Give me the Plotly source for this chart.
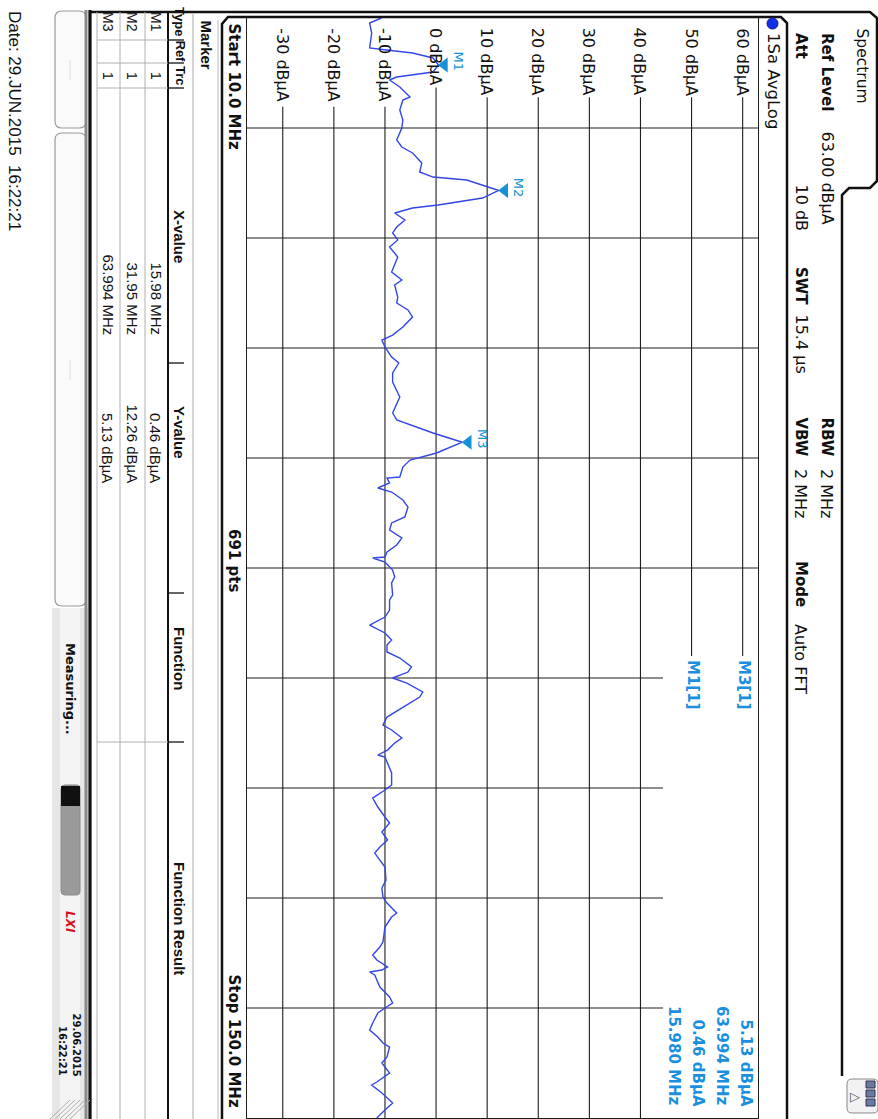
import plotly.graph_objects as go

W, H = 878, 1119
FONT = "DejaVu Sans"
TFONT = "Liberation Sans"

# ---------------- data ----------------
freq_mhz = [10.00, 10.64, 11.91, 13.82, 14.07, 14.45, 15.09, 15.98, 16.87, 17.51, 17.89, 18.78,
            20.05, 20.44, 21.71, 22.98, 24.00, 25.53, 26.42, 27.18, 28.46, 29.60, 30.24, 30.62,
            31.95, 32.91, 33.80, 34.18, 34.82, 35.71, 36.60, 37.36, 38.25, 39.15, 40.42, 42.33,
            43.35, 43.98, 45.51, 46.27, 47.16, 48.06, 49.33, 50.35, 50.98, 51.87, 53.15, 53.91,
            55.18, 56.33, 58.24, 60.27, 61.16, 62.82, 63.99, 65.36, 66.26, 67.15, 68.42, 68.55,
            69.18, 69.82, 70.33, 71.35, 72.24, 73.51, 74.27, 75.16, 76.18, 77.07, 77.96, 78.60,
            78.73, 79.24, 80.26, 81.15, 81.91, 83.44, 84.07, 85.35, 86.24, 87.26, 88.27, 89.16,
            89.80, 90.69, 91.46, 92.60, 93.24, 94.00, 94.64, 95.78, 96.42, 97.69, 98.97, 99.98,
            100.62, 101.64, 102.28, 103.17, 103.80, 104.06, 104.82, 106.09, 107.62, 108.26, 109.28,
            110.42, 111.69, 112.46, 113.60, 114.62, 115.51, 116.28, 117.17, 118.06, 119.71, 120.73,
            121.88, 122.64, 123.91, 124.42, 125.69, 127.60, 128.24, 129.26, 129.89, 130.78, 131.17,
            131.42, 131.80, 133.33, 134.60, 135.37, 136.00, 136.64, 137.91, 138.80, 139.69, 140.46,
            140.97, 142.24, 143.00, 144.28, 145.42, 145.80, 146.82, 148.09, 148.98, 150.00]
level_dbua = [-10.7, -13.0, -12.6, -13.0, -9.7, -4.6, -0.6, 0.46, -0.6, -7.7, -9.1, -7.1,
              -5.1, -6.5, -7.1, -6.5, -6.7, -7.7, -6.7, -4.6, -2.8, -3.2, -0.6, 6.0,
              12.26, 9.1, 0.4, -4.6, -8.1, -6.1, -7.7, -8.5, -7.5, -9.1, -7.5, -8.7,
              -6.7, -8.1, -7.5, -7.7, -5.5, -4.6, -6.5, -8.5, -10.6, -10.0, -8.7, -7.3,
              -8.5, -8.5, -7.1, -8.5, -7.7, -0.6, 5.13, 0.1, -5.1, -6.5, -7.1, -9.6,
              -9.1, -11.4, -8.7, -6.5, -5.5, -6.1, -8.7, -9.1, -6.7, -7.7, -9.6, -10.0,
              -12.4, -10.0, -8.5, -8.1, -8.7, -8.5, -9.1, -9.1, -10.0, -13.0, -10.0, -8.7,
              -9.6, -9.6, -7.1, -4.8, -5.5, -8.5, -5.7, -2.6, -3.2, -6.5, -9.6, -10.4,
              -8.7, -6.7, -8.1, -9.5, -11.4, -10.0, -9.5, -8.7, -8.7, -10.0, -12.4,
              -11.4, -10.0, -9.1, -10.6, -9.5, -11.0, -12.0, -11.0, -10.0, -9.8, -10.6,
              -10.4, -9.6, -7.7, -8.7, -10.0, -10.4, -11.0, -12.4, -11.6, -9.5, -10.6,
              -13.0, -12.0, -11.0, -9.1, -8.5, -10.0, -11.4, -12.4, -13.0, -11.4, -10.4,
              -9.1, -9.6, -10.6, -9.1, -11.6, -12.6, -10.6, -8.5, -10.0, -11.6]

marker_names = ["M1", "M2", "M3"]
marker_freq = [15.98, 31.95, 63.994]
marker_level = [0.46, 12.26, 5.13]
marker_x_text = ["15.98 MHz", "31.95 MHz", "63.994 MHz"]
marker_y_text = ["0.46 dBµA", "12.26 dBµA", "5.13 dBµA"]
marker_trc = ["1", "1", "1"]

level_ticks = [-30, -20, -10, 0, 10, 20, 30, 40, 50, 60]
level_tick_labels = ["-30 dBµA", "-20 dBµA", "-10 dBµA", "0 dBµA", "10 dBµA",
                     "20 dBµA", "30 dBµA", "40 dBµA", "50 dBµA", "60 dBµA"]
freq_start, freq_stop = 10.0, 150.0
ref_level = 63.0
range_db = 100.0
n_div = 10

# ---------------- layout helpers (screen px -> paper) ----------------
shapes, anns = [], []

def px(x):
    return x / W

def py(y):
    return 1 - y / H

def text(t, x, y, size=14, bold=False, color="#111111", xa="center", ya="top",
         angle=90, family=FONT):
    anns.append(dict(text=(f"<b>{t}</b>" if bold else t), x=px(x), y=py(y),
                     xref="paper", yref="paper", xanchor=xa, yanchor=ya,
                     textangle=angle, showarrow=False, borderpad=0,
                     font=dict(size=size, color=color, family=family)))

def line(x0, y0, x1, y1, color="#111111", width=1.0, layer="above"):
    shapes.append(dict(type="line", xref="paper", yref="paper", x0=px(x0), y0=py(y0),
                       x1=px(x1), y1=py(y1), line=dict(color=color, width=width), layer=layer))

def rect(x0, y0, x1, y1, fill="white", lc="rgba(0,0,0,0)", width=0, layer="above"):
    shapes.append(dict(type="rect", xref="paper", yref="paper", x0=px(x0), y0=py(y0),
                       x1=px(x1), y1=py(y1), fillcolor=fill,
                       line=dict(color=lc, width=width), layer=layer))

def rrect(x0, y0, x1, y1, r, fill="white", lc="#999999", width=1.0, layer="above"):
    def P(a, b):
        return f"{px(a):.5f},{py(b):.5f}"
    d = (f"M {P(x0 + r, y0)} L {P(x1 - r, y0)} Q {P(x1, y0)} {P(x1, y0 + r)} "
         f"L {P(x1, y1 - r)} Q {P(x1, y1)} {P(x1 - r, y1)} L {P(x0 + r, y1)} "
         f"Q {P(x0, y1)} {P(x0, y1 - r)} L {P(x0, y0 + r)} Q {P(x0, y0)} {P(x0 + r, y0)} Z")
    shapes.append(dict(type="path", xref="paper", yref="paper", path=d, fillcolor=fill,
                       line=dict(color=lc, width=width), layer=layer))

def poly(points, color="#111111", width=2.5):
    parts = []
    for i, (a, b) in enumerate(points):
        parts.append(("M " if i == 0 else "L ") + f"{px(a):.5f},{py(b):.5f}")
    shapes.append(dict(type="path", xref="paper", yref="paper", path=" ".join(parts),
                       line=dict(color=color, width=width), layer="above"))

# plot area in screen px
PX0, PX1, PY0, PY1 = 247, 758, 18, 1118
px_per_db = (PX1 - PX0) / range_db
px_per_mhz = (PY1 - PY0) / (freq_stop - freq_start)
INFO_X0, INFO_Y0 = 663, 656   # marker info region inside the diagram
GRID = "#1e1e1e"

# ---------------- figure ----------------
fig = go.Figure()

TRACE_BLUE = "#3346e6"
MARK_BLUE = "#1591d6"
INFO_BLUE = "#1a8fe0"

# grid: vertical level lines start below their labels, stop at the marker info box
for v, lab in zip(level_ticks, level_tick_labels):
    xpix = PX0 + (v - (ref_level - range_db)) * px_per_db
    y_top = PY0 + 12 + 9.6 * len(lab)
    y_bot = INFO_Y0 if xpix > INFO_X0 else PY1
    shapes.append(dict(type="line", xref="x", yref="paper", x0=v, x1=v, y0=py(y_top),
                       y1=py(y_bot), line=dict(color=GRID, width=1.1), layer="below"))
    anns.append(dict(text=lab, x=v, y=py(PY0 + 9), xref="x", yref="paper",
                     xanchor="center", yanchor="top", textangle=90, showarrow=False,
                     borderpad=0, font=dict(size=16, color="#111111", family=FONT)))
# grid: horizontal frequency lines
for k in range(1, n_div):
    f = freq_start + k * (freq_stop - freq_start) / n_div
    ypix = PY0 + (f - freq_start) * px_per_mhz
    x_right = INFO_X0 if ypix > INFO_Y0 else PX1
    shapes.append(dict(type="line", xref="paper", yref="y", x0=px(PX0), x1=px(x_right),
                       y0=f, y1=f, line=dict(color=GRID, width=1.1), layer="below"))

fig.add_trace(go.Scatter(x=level_dbua, y=freq_mhz, mode="lines",
                         line=dict(color=TRACE_BLUE, width=1.4), hoverinfo="skip",
                         showlegend=False))

# marker triangles (tip on the trace point)
tri_off = 6 / px_per_db
fig.add_trace(go.Scatter(x=[v + tri_off for v in marker_level], y=marker_freq, mode="markers",
                         marker=dict(symbol="triangle-left", size=13, color=MARK_BLUE,
                                     line=dict(width=0)),
                         hoverinfo="skip", showlegend=False))
for name, f, v in zip(marker_names, marker_freq, marker_level):
    anns.append(dict(text=name, x=v, y=f, xref="x", yref="y", xanchor="center",
                     yanchor="middle", xshift=20, yshift=3, textangle=90, showarrow=False,
                     font=dict(size=13, color=MARK_BLUE, family=FONT)))

# marker info texts
text("<b>M3[1]</b>", 744, 659, size=15, color=INFO_BLUE)
text("<b>M1[1]</b>", 693, 659, size=15, color=INFO_BLUE)
info_lines = [marker_y_text[2], f"{marker_freq[2]:.3f} MHz",
              marker_y_text[0], f"{marker_freq[0]:.3f} MHz"]
for xx, t in zip([746, 722, 698, 674], info_lines):
    text(f"<b>{t}</b>", xx, 1107, size=15, color=INFO_BLUE, ya="bottom")

# ---------------- frames ----------------
poly([(90, 1119), (90, 12), (870, 12), (877, 18), (877, 181), (870, 188), (849, 188),
      (842, 195), (842, 1076)], width=2.5)
poly([(222, 1119), (222, 24), (228, 17), (781, 17), (787, 23), (787, 1119)], width=2.5)
line(218, 20, 218, 1119, color="#bbbbbb", width=1)

# header text
text("Spectrum", 862, 27, size=15.5)
text("Ref Level", 827, 32, size=15, bold=True)
text("63.00 dBµA", 827, 130, size=16)
text("Att", 801, 32, size=15, bold=True)
text("10 dB", 801, 232, size=16, ya="bottom")
text("SWT", 801, 266, size=15, bold=True)
text("15.4 µs", 801, 313, size=16)
text("RBW", 827, 416, size=15, bold=True)
text("2 MHz", 827, 468, size=16)
text("VBW", 801, 416, size=15, bold=True)
text("2 MHz", 801, 468, size=16)
text("Mode", 801, 560, size=15, bold=True)
text("Auto FFT", 801, 623, size=16)

# trace label strip
shapes.append(dict(type="circle", xref="paper", yref="paper", x0=px(767), x1=px(778),
                   y0=py(29), y1=py(18), fillcolor="#1030e8", line=dict(color="#0a1a90", width=1)))
text("1Sa AvgLog", 773, 32, size=16.5)

# bottom strip
text("Start 10.0 MHz", 234, 22, size=15, bold=True)
text("691 pts", 234, 560, size=15, bold=True, ya="middle")
text("Stop 150.0 MHz", 234, 1108, size=15, bold=True, ya="bottom")

# ---------------- marker table ----------------
text("Marker", 206, 19, size=15, bold=True, family=TFONT)
line(193, 14, 193, 1119, color="#aaaaaa", width=1)
line(168, 12, 168, 1119, color="#111111", width=2)
for xx in [145, 120, 97]:
    line(xx, 12, xx, 1119, color="#b0b0b0", width=1)
for yy in [40, 63, 88, 742]:
    line(97, yy, 168, yy, color="#b0b0b0", width=1)
for yy in [40, 63, 88, 363, 593, 742]:
    line(168, yy, 184, yy, color="#111111", width=1.3)
headers = [("Type", 21, 13), ("Ref", 51.5, 13), ("Trc", 76, 13), ("X-value", 236, 15),
           ("Y-value", 432, 15), ("Function", 658, 15), ("Function Result", 918, 15)]
for h, yc, sz in headers:
    text(h, 180, yc, size=sz, bold=True, ya="middle", family=TFONT)
for i, xx in enumerate([156, 132, 108]):
    text(marker_names[i], xx, 22, size=14, ya="middle", family=TFONT)
    text(marker_trc[i], xx, 76, size=14, ya="middle", family=TFONT)
    text(marker_x_text[i], xx, 336, size=15, ya="bottom", family=TFONT)
    text(marker_y_text[i], xx, 484, size=15, ya="bottom", family=TFONT)

# ---------------- softkeys / status bar ----------------
rrect(55, 11, 86, 128, 7, fill="#fafafa", lc="#9a9a9a", width=1.2)
rrect(55, 133, 86, 606, 7, fill="#fafafa", lc="#9a9a9a", width=1.2)
line(70, 60, 70, 80, color="#dddddd", width=1)
line(70, 360, 70, 380, color="#dddddd", width=1)
rect(52, 608, 88, 1119, fill="#e6e6e6")
rect(60, 608, 80, 1119, fill="#f4f4f4")
line(86, 10, 86, 1119, color="#8a8a8a", width=3)
line(90, 10, 90, 1119, color="#111111", width=3)
text("Measuring...", 71, 642, size=13, bold=True)
rrect(61, 785, 80, 895, 4, fill="#9a9a9a", lc="#888888", width=1)
rect(61, 786, 80, 806, fill="#111111")
text("<i>LXI</i>", 70, 922, size=12, bold=True, color="#d8101a", ya="middle")
text("29.06.2015", 76, 1077, size=10, bold=True, ya="bottom")
text("16:22:21", 63, 1077, size=10, bold=True, ya="bottom")
for k in range(5):
    line(50 + 5 * k, 1119, 70 + 5 * k, 1100, color="#aaaaaa", width=1)

# bottom-right icon
rrect(847, 1079, 878, 1113, 5, fill="#f2f2f2", lc="#888888", width=1)
text("▷", 855, 1096, size=13, color="#555555", ya="middle", angle=0)
for k in range(3):
    rect(866, 1081 + 9 * k, 875, 1088 + 9 * k, fill="#6a7aa0", lc="#333355", width=1)

# date line
text("Date: 29.JUN.2015  16:22:21", 15, 10, size=17, family=TFONT)

# ---------------- axes ----------------
fig.update_layout(
    width=W, height=H, margin=dict(l=0, r=0, t=0, b=0, pad=0),
    paper_bgcolor="white", plot_bgcolor="white", showlegend=False,
    shapes=shapes, annotations=anns,
    xaxis=dict(domain=[px(PX0), px(PX1)], range=[ref_level - range_db, ref_level],
               showgrid=False, zeroline=False, showticklabels=False, ticks="",
               showline=True, linecolor=GRID, linewidth=1, mirror=True, fixedrange=True),
    yaxis=dict(domain=[py(PY1), py(PY0)], range=[freq_stop, freq_start],
               showgrid=False, zeroline=False, showticklabels=False,
               ticks="", showline=True, linecolor=GRID, linewidth=1, mirror=True,
               fixedrange=True),
)

fig.write_html("out.html", config={"displayModeBar": False},
               post_script="document.body.style.margin='0px';document.body.style.overflow='hidden';")
